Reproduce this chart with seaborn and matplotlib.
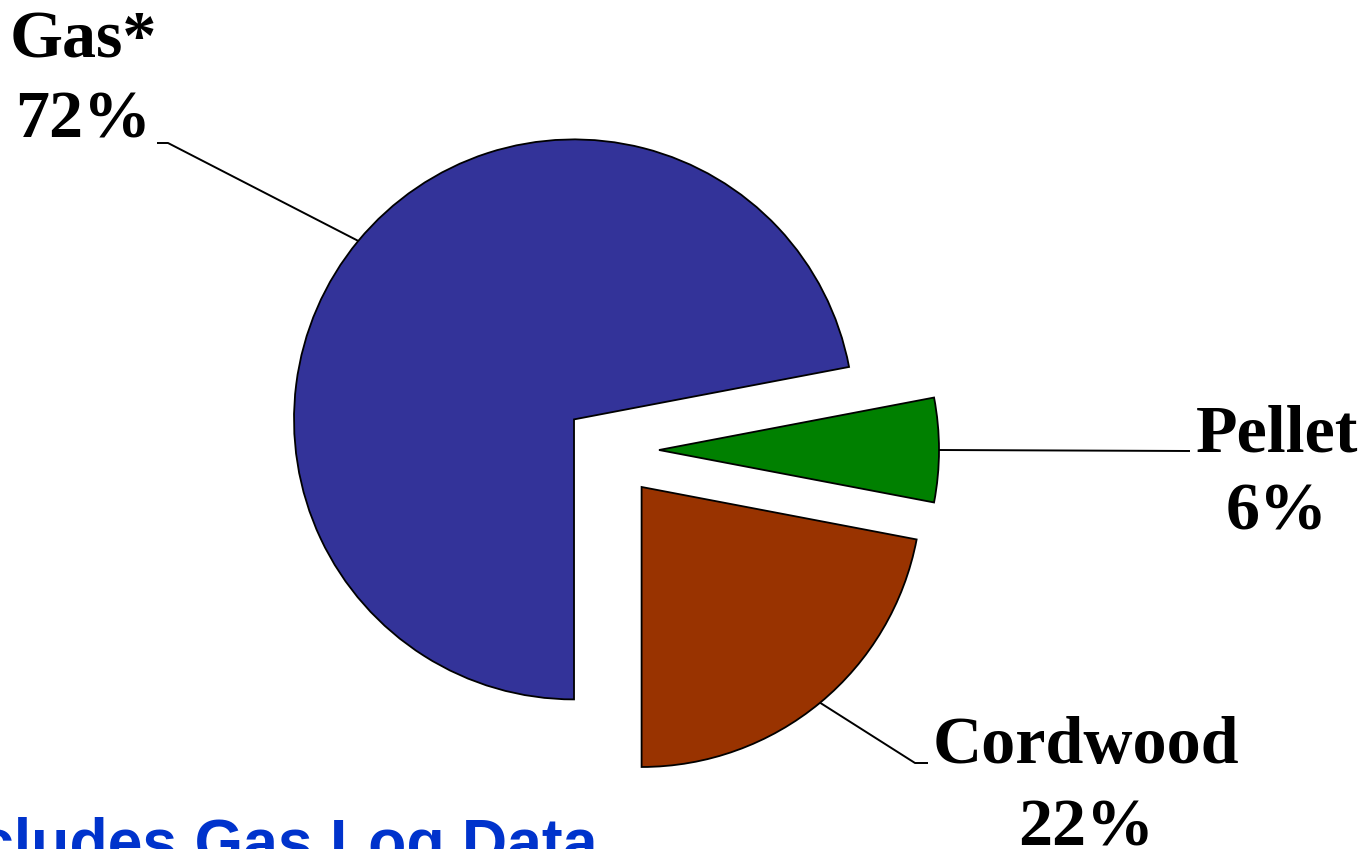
import numpy as np
import matplotlib
matplotlib.use("Agg")
import matplotlib.pyplot as plt
import seaborn as sns

# Chart data
fuels = ["Gas*", "Pellet", "Cordwood"]
shares = [72, 6, 22]
pct_labels = ["72%", "6%", "22%"]
fuel_colors = ["#333399", "#008000", "#993300"]
footnote = "* Includes Gas Log Data"

sns.set_theme(style="white")
plt.rcParams["font.family"] = ["Liberation Serif", "DejaVu Serif"]

W, H = 1371, 849
fig = plt.figure(figsize=(W / 100, H / 100), dpi=100)
ax = fig.add_axes([0, 0, 1, 1])

# pie drawn in pixel-like data units (y up)
center = (611, H - 450)
radius = 280
explode_dist = 48  # pie() takes explode in data units when radius != 1

wedges, _ = ax.pie(
    shares,
    colors=fuel_colors,
    startangle=270,
    counterclock=False,
    explode=[explode_dist] * len(shares),
    center=center,
    radius=radius,
    frame=True,
    wedgeprops=dict(edgecolor="black", linewidth=1.3),
)
ax.set_xlim(0, W)
ax.set_ylim(0, H)
ax.set_aspect("equal")
ax.axis("off")

# leader elbows / ends and label anchors (image coords, y down)
leader_pts = {
    "Gas*": [(168, 143), (157, 143)],
    "Pellet": [(1190, 451)],
    "Cordwood": [(915, 763), (928, 763)],
}
label_pos = {
    "Gas*": (83, 57, 137),
    "Pellet": (1277, 451, 530),
    "Cordwood": (1086, 763, 845),
}

for w, name, pct in zip(wedges, fuels, pct_labels):
    mid = np.deg2rad((w.theta1 + w.theta2) / 2)
    cx, cy = w.center
    sx = cx + w.r * np.cos(mid)
    sy = cy + w.r * np.sin(mid)
    xs = [sx] + [p[0] for p in leader_pts[name]]
    ys = [sy] + [H - p[1] for p in leader_pts[name]]
    ax.plot(xs, ys, color="black", lw=1.4, solid_capstyle="butt", zorder=0)
    lx, b1, b2 = label_pos[name]
    ax.text(lx, H - b1, name, ha="center", va="baseline",
            fontsize=49, fontweight="bold", color="black")
    ax.text(lx, H - b2, pct, ha="center", va="baseline",
            fontsize=49, fontweight="bold", color="black")

ax.text(597, H - 863, footnote, ha="right", va="baseline",
        fontsize=45, fontweight="bold", color="#0033CC",
        family=["Liberation Sans", "DejaVu Sans"])

fig.savefig("out.png", dpi=100)
